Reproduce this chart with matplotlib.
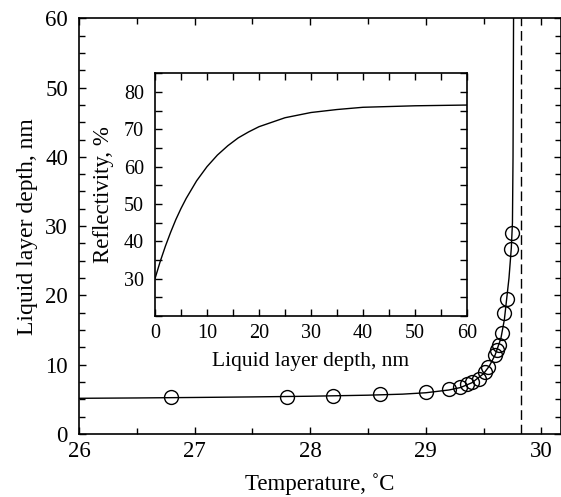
import matplotlib
matplotlib.use('Agg')
import matplotlib.pyplot as plt
from matplotlib.ticker import MultipleLocator

plt.rcParams['font.family'] = ['Liberation Serif', 'DejaVu Serif']
plt.rcParams['mathtext.fontset'] = 'stix'

# measured points (temperature, liquid layer depth)
temp = [26.8, 27.8, 28.2, 28.6, 29.0, 29.2, 29.3, 29.36, 29.4, 29.46,
        29.51, 29.54, 29.6, 29.615, 29.63, 29.66, 29.68, 29.70, 29.74, 29.75]
depth = [5.3, 5.4, 5.5, 5.7, 6.0, 6.45, 6.8, 7.2, 7.5, 8.0,
         9.0, 9.7, 11.4, 12.1, 12.8, 14.6, 17.4, 19.5, 26.7, 29.0]

# fitted curve
fit_t = [26.0, 26.5, 27.0, 27.5, 28.0, 28.5, 28.8, 29.0, 29.2, 29.3, 29.4,
         29.5, 29.55, 29.6, 29.65, 29.68, 29.70, 29.72, 29.74, 29.75,
         29.755, 29.76]
fit_d = [5.15, 5.2, 5.27, 5.35, 5.45, 5.6, 5.75, 5.95, 6.35, 6.7, 7.4,
         8.7, 9.8, 11.4, 13.8, 16.5, 19.5, 22.5, 26.8, 30.5, 40, 62]
t_melt = 29.82

# inset: reflectivity vs depth
refl_d = [0, 1, 2, 3, 4, 5, 6, 8, 10, 12, 14, 16, 18, 20, 25, 30, 35, 40,
          45, 50, 55, 60]
refl = [30.0, 34.6, 38.7, 42.4, 45.8, 48.8, 51.5, 56.2, 60.0, 63.1, 65.6,
        67.7, 69.3, 70.7, 73.1, 74.5, 75.3, 75.9, 76.1, 76.3, 76.4, 76.5]

fig = plt.figure(figsize=(5.61, 4.97), dpi=100)
ax = fig.add_axes([0.1408, 0.1268, 0.8592, 0.8364])

ax.plot(fit_t, fit_d, color='k', lw=1.0)
ax.plot(temp, depth, 'o', mfc='none', mec='k', ms=10, mew=1.0)
ax.axvline(t_melt, color='k', lw=1.0, dashes=(7, 3.5))

ax.set_xlim(26, 30.17)
ax.set_ylim(0, 60)
ax.xaxis.set_major_locator(MultipleLocator(1))
ax.xaxis.set_minor_locator(MultipleLocator(0.5))
ax.yaxis.set_major_locator(MultipleLocator(10))
ax.yaxis.set_minor_locator(MultipleLocator(2.5))
ax.tick_params(which='both', direction='in', top=True, right=True,
               labelsize=16.5, width=1.0)
ax.tick_params(which='major', length=5)
ax.tick_params(which='minor', length=4)
ax.tick_params(axis='y', pad=8)
ax.tick_params(axis='x', pad=5)
for s in ax.spines.values():
    s.set_linewidth(1.2)
ax.set_xlabel('Temperature, ˚C', fontsize=16.5, labelpad=8)
ax.set_ylabel('Liquid layer depth, nm', fontsize=17, labelpad=5)

ins = fig.add_axes([0.2763, 0.3642, 0.5561, 0.4883])
ins.plot(refl_d, refl, color='k', lw=1.0)
ins.set_xlim(0, 60)
ins.set_ylim(20, 85)
ins.xaxis.set_major_locator(MultipleLocator(10))
ins.xaxis.set_minor_locator(MultipleLocator(5))
ins.yaxis.set_major_locator(MultipleLocator(10))
ins.yaxis.set_minor_locator(MultipleLocator(5))
ins.set_yticks([30, 40, 50, 60, 70, 80])
ins.tick_params(which='both', direction='in', top=True, right=True,
                labelsize=14.5, width=1.0, length=5)
ins.tick_params(axis='y', pad=8)
ins.tick_params(axis='x', pad=6)
for s in ins.spines.values():
    s.set_linewidth(1.2)
ins.set_xlabel('Liquid layer depth, nm', fontsize=15.5, labelpad=6)
ins.set_ylabel('Reflectivity, %', fontsize=16.5, labelpad=7)

fig.savefig('out.png', dpi=100)
